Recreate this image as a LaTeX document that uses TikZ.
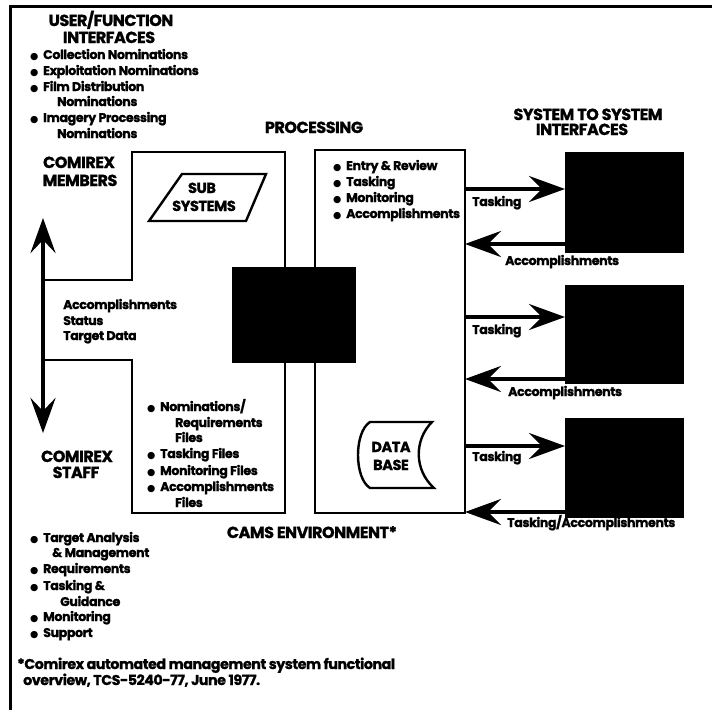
\documentclass[tikz,border=0pt]{standalone}
\usepackage{fontspec}
\setmainfont{Poppins}
\newfontfamily\pfont[LetterSpace=-3,BoldFeatures={FakeBold=1.2}]{Poppins}
\newfontfamily\dvs{DejaVu Sans}
\usetikzlibrary{arrows.meta}
\newcommand{\bul}{\makebox[13pt][l]{\dvs\fontsize{9.5}{9.5}\selectfont ●}}
\begin{document}
\begin{tikzpicture}[x=1pt,y=-1pt,
  box/.style={draw=black,line width=2.6pt,line join=miter},
  blk/.style={fill=black,draw=black,inner sep=0pt,outer sep=0pt},
  btxt/.style={font=\pfont\bfseries\fontsize{12.6}{16}\selectfont,inner sep=0pt,anchor=base west},
  ntxt/.style={font=\pfont\bfseries\fontsize{14.2}{16}\selectfont,inner sep=0pt,anchor=base west},
  ttl/.style={font=\pfont\bfseries\fontsize{16}{18}\selectfont,inner sep=0pt,anchor=base},
  stxt/.style={font=\pfont\bfseries\fontsize{14.5}{16}\selectfont,inner sep=0pt,anchor=base},
  fat/.style={line width=4pt,-{Stealth[length=36pt,width=26pt,inset=13pt]}},
  fatboth/.style={line width=4pt,{Stealth[length=35pt,width=25pt,inset=13pt]}-{Stealth[length=35pt,width=25pt,inset=13pt]}}]
\fill[white] (0,0) rectangle (712,710);
\useasboundingbox (0,0) rectangle (712,710);
% outer frame (top and left)
\draw[line width=3pt] (10,710) -- (10,6) -- (712,6);

% left (COMIREX side) box outline
\coordinate (lbA) at (45,280);
\coordinate (lbB) at (45,360);
\draw[box] (lbA) -- (132,280) -- (132,152) -- (285,152) -- (285,300);
\draw[box] (lbB) -- (132,360) -- (132,513) -- (285,513) -- (285,330);

% processing box
\node[box,minimum width=150pt,minimum height=363pt,inner sep=0pt,outer sep=0pt] (proc) at (390,331.5) {};

% central black box
\node[blk,minimum width=123pt,minimum height=95pt] (core) at (293.5,314.5) {};

% system boxes
\node[blk,minimum width=118pt,minimum height=100pt] (s1) at (624,202) {};
\node[blk,minimum width=118pt,minimum height=98pt] (s2) at (624,334) {};
\node[blk,minimum width=118pt,minimum height=99pt] (s3) at (624,467.5) {};

% arrows
\draw[fat] (proc.east |- 0,189) -- (s1.west |- 0,189);
\draw[fat] (s1.west |- 0,244) -- (proc.east |- 0,244);
\draw[fat] (proc.east |- 0,317) -- (s2.west |- 0,317);
\draw[fat] (s2.west |- 0,379) -- (proc.east |- 0,379);
\draw[fat] (proc.east |- 0,446) -- (s3.west |- 0,446);
\draw[fat] (s3.west |- 0,512) -- (proc.east |- 0,512);

% double arrow
\coordinate (up) at (43,218);
\coordinate (dn) at (43,433);
\draw[fatboth] (up) -- (dn);

% sub systems parallelogram
\draw[line width=2.4pt,line join=miter] (182,174) -- (266,174) -- (246,221) -- (149,221) -- cycle;
\node[stxt] (sub1) at (202,193) {SUB};
\node[stxt] (sub2) at (204,211) {SYSTEMS};

% data base shape
\draw[line width=2.4pt] (370,422) -- (432,422) .. controls (414,440) and (414,470) .. (434,488)
  -- (370,488) .. controls (354,478) and (354,432) .. (370,422) -- cycle;
\node[stxt] (db1) at (391,452) {DATA};
\node[stxt] (db2) at (391,470) {BASE};

% titles
\node[ttl] (t1) at (111,26) {USER/FUNCTION};
\node[ttl] (t2) at (109,43) {INTERFACES};
\node[ttl] (cm1) at (79,168) {COMIREX};
\node[ttl] (cm2) at (80,186) {MEMBERS};
\node[ttl] (cs1) at (77,462) {COMIREX};
\node[ttl] (cs2) at (76,478) {STAFF};
\node[ttl] (pr) at (314,133) {PROCESSING};
\node[ttl] (ss1) at (588,120) {SYSTEM TO SYSTEM};
\node[ttl] (ss2) at (582,135) {INTERFACES};
\node[ttl] (cams) at (312,538) {CAMS ENVIRONMENT*};

% top-left bullets
\node[btxt] (u1) at (30,59) {\bul Collection Nominations};
\node[btxt] (u2) at (30,75) {\bul Exploitation Nominations};
\node[btxt] (u3) at (30,91) {\bul Film Distribution};
\node[btxt] (u4) at (57,106) {Nominations};
\node[btxt] (u5) at (30,122) {\bul Imagery Processing};
\node[btxt] (u6) at (57,138) {Nominations};

% processing bullets
\node[btxt] (p1) at (333,170) {\bul Entry \& Review};
\node[btxt] (p2) at (333,186) {\bul Tasking};
\node[btxt] (p3) at (333,202) {\bul Monitoring};
\node[btxt] (p4) at (333,218) {\bul Accomplishments};

% flow texts
\node[btxt] (f1) at (63,309) {Accomplishments};
\node[btxt] (f2) at (63,325) {Status};
\node[btxt] (f3) at (63,340) {Target Data};

% files
\node[btxt] (n1) at (147,411) {\bul Nominations/};
\node[btxt] (n2) at (175,427) {Requirements};
\node[btxt] (n3) at (175,442) {Files};
\node[btxt] (n4) at (147,458) {\bul Tasking Files};
\node[btxt] (n5) at (147,475) {\bul Monitoring Files};
\node[btxt] (n6) at (147,491) {\bul Accomplishments};
\node[btxt] (n7) at (175,507) {Files};

% arrow labels
\node[btxt] (a1) at (472,206) {Tasking};
\node[btxt] (a2) at (505,265) {Accomplishments};
\node[btxt] (a3) at (472,334) {Tasking};
\node[btxt] (a4) at (508,396) {Accomplishments};
\node[btxt] (a5) at (472,461) {Tasking};
\node[btxt] (a6) at (507,527) {Tasking/Accomplishments};

% staff bullets
\node[btxt] (g1) at (30,542) {\bul Target Analysis};
\node[btxt] (g2) at (52,557) {\& Management};
\node[btxt] (g3) at (30,573) {\bul Requirements};
\node[btxt] (g4) at (30,590) {\bul Tasking \&};
\node[btxt] (g5) at (60,606) {Guidance};
\node[btxt] (g6) at (30,621) {\bul Monitoring};
\node[btxt] (g7) at (30,637) {\bul Support};

% footnote
\node[ntxt] (fn1) at (17,669) {*Comirex automated management system functional};
\node[ntxt] (fn2) at (23,685) {overview, TCS-5240-77, June 1977.};
\end{tikzpicture}
\end{document}
